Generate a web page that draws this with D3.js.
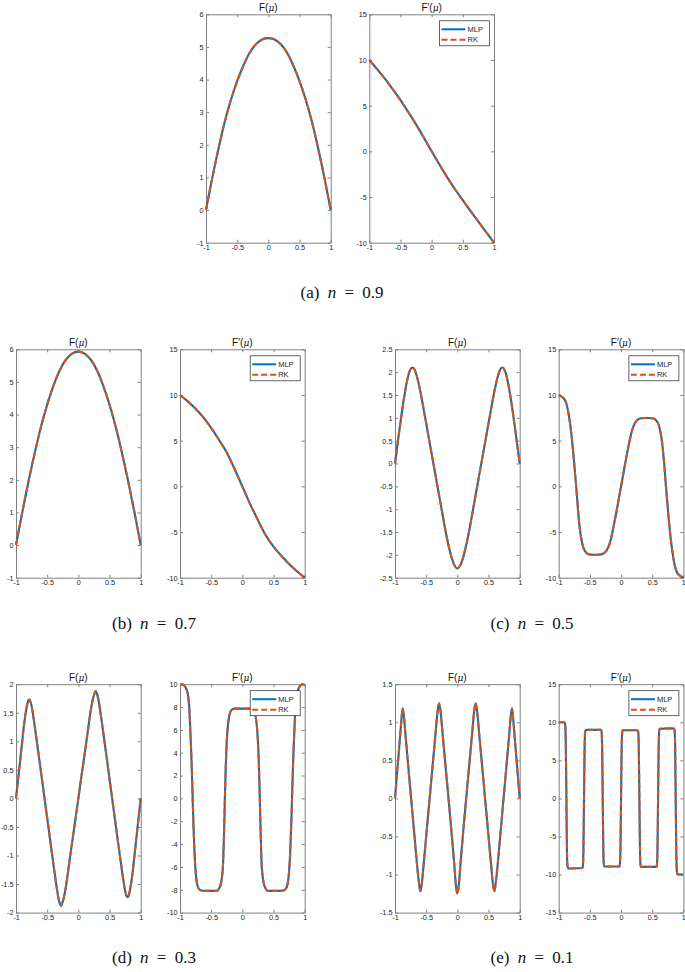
<!DOCTYPE html>
<html>
<head>
<meta charset="utf-8">
<script src="https://cdn.jsdelivr.net/npm/d3@7"></script>
<style>
body { margin: 0; background: #fff; }
text { font-family: "Liberation Sans", Arial, sans-serif; }
.ax path, .ax line { stroke: #808080; stroke-width: 1; }
.ax text { fill: #262626; font-size: 7.3px; }
</style>
</head>
<body>
<div id="chart"></div>
<script>
// ---- data ----
var xTicks = [-1, -0.5, 0, 0.5, 1];

// (a) n = 0.9
var muA = [-1,-0.9,-0.8,-0.7,-0.6,-0.5,-0.4,-0.3,-0.2,-0.1,0,0.1,0.2,0.3,0.4,0.5,0.6,0.7,0.8,0.9,1];
var fA = [0,0.98,1.88,2.7,3.38,3.95,4.43,4.82,5.08,5.23,5.27,5.23,5.08,4.82,4.43,3.95,3.38,2.7,1.88,0.98,0];
var muA2 = [-1,-0.875,-0.75,-0.625,-0.5,-0.375,-0.25,-0.125,0,0.125,0.25,0.375,0.5,0.625,0.75,0.875,1];
var dfA = [10,9.0,7.95,6.8,5.6,4.3,2.95,1.5,0,-1.45,-2.85,-4.15,-5.35,-6.55,-7.7,-8.85,-10];

// (b) n = 0.7
var muB = [-1,-0.9,-0.8,-0.7,-0.6,-0.5,-0.4,-0.3,-0.2,-0.1,0,0.1,0.2,0.3,0.4,0.5,0.6,0.7,0.8,0.9,1];
var fB = [0,1.0,1.95,2.82,3.62,4.3,4.88,5.35,5.68,5.87,5.93,5.87,5.68,5.35,4.88,4.3,3.62,2.82,1.95,1.0,0];
var muB2 = [-1,-0.875,-0.75,-0.625,-0.5,-0.375,-0.25,-0.125,0,0.125,0.25,0.375,0.5,0.625,0.75,0.875,1];
var dfB = [10,9.3,8.5,7.55,6.4,5.1,3.7,1.9,0,-1.95,-3.7,-5.35,-6.6,-7.6,-8.5,-9.3,-10];

// (c) n = 0.5
var muC = [-1,-0.95,-0.9,-0.85,-0.8,-0.76,-0.72,-0.68,-0.64,-0.6,-0.55,-0.5,-0.45,-0.4,-0.35,-0.3,-0.25,-0.2,-0.15,-0.1,-0.05,0,
           0.05,0.1,0.15,0.2,0.25,0.3,0.35,0.4,0.45,0.5,0.55,0.6,0.64,0.68,0.72,0.76,0.8,0.85,0.9,0.95,1];
var fC = [0,0.52,1.02,1.48,1.85,2.04,2.1,2.04,1.86,1.62,1.26,0.88,0.5,0.12,-0.26,-0.64,-1.02,-1.4,-1.74,-2.02,-2.22,-2.3,
          -2.22,-2.02,-1.74,-1.4,-1.02,-0.64,-0.26,0.12,0.5,0.88,1.26,1.62,1.86,2.04,2.1,2.04,1.85,1.48,1.02,0.52,0];
var muC2 = [-1,-0.95,-0.9,-0.86,-0.82,-0.79,-0.765,-0.74,-0.715,-0.69,-0.66,-0.63,-0.6,-0.56,-0.52,-0.45,-0.38,-0.32,-0.28,-0.24,-0.2,-0.16,-0.12,-0.08,-0.04,0,
            0.04,0.08,0.12,0.16,0.2,0.24,0.28,0.32,0.38,0.45,0.52,0.56,0.6,0.63,0.66,0.69,0.715,0.74,0.765,0.79,0.82,0.86,0.9,0.95,1];
var dfC = [10,9.8,9.45,8.6,7.0,5.3,3.6,1.6,-0.4,-2.6,-4.7,-6.0,-6.8,-7.25,-7.42,-7.48,-7.48,-7.45,-7.35,-7.1,-6.6,-5.7,-4.4,-3.0,-1.5,0,
           1.5,3.0,4.4,5.7,6.6,7.1,7.35,7.45,7.48,7.48,7.42,7.25,6.8,6.0,4.7,2.6,0.4,-1.6,-3.6,-5.3,-7.0,-8.6,-9.45,-9.8,-10];

// (d) n = 0.3
var muD = [-1,-0.95,-0.9,-0.87,-0.84,-0.82,-0.8,-0.786,-0.77,-0.75,-0.72,-0.68,-0.6,-0.5,-0.4,-0.35,-0.32,-0.3,-0.278,-0.26,-0.24,-0.2,-0.15,-0.1,-0.05,0,
           0.05,0.1,0.15,0.2,0.24,0.26,0.278,0.3,0.32,0.35,0.4,0.5,0.6,0.68,0.72,0.75,0.77,0.786,0.8,0.82,0.84,0.87,0.9,0.95,1];
var fD = [0,0.5,1.0,1.3,1.53,1.65,1.72,1.73,1.7,1.62,1.42,1.11,0.47,-0.34,-1.15,-1.54,-1.74,-1.83,-1.88,-1.84,-1.77,-1.55,-1.16,-0.77,-0.39,0,
          0.39,0.77,1.16,1.55,1.77,1.84,1.88,1.83,1.74,1.54,1.15,0.34,-0.47,-1.11,-1.42,-1.62,-1.7,-1.73,-1.72,-1.65,-1.53,-1.3,-1.0,-0.5,0];
var muD2 = [-1,-0.95,-0.92,-0.9,-0.867,-0.85,-0.835,-0.815,-0.8,-0.785,-0.765,-0.745,-0.725,-0.7,-0.67,-0.6,-0.45,-0.4,-0.37,-0.345,-0.325,-0.31,-0.295,-0.28,-0.265,-0.25,-0.235,-0.215,-0.19,-0.16,-0.12,0,
            0.12,0.16,0.19,0.215,0.235,0.25,0.265,0.28,0.295,0.31,0.325,0.345,0.37,0.4,0.45,0.6,0.67,0.7,0.725,0.745,0.765,0.785,0.8,0.815,0.835,0.85,0.867,0.9,0.92,0.95,1];
var dfD = [10,9.97,9.8,9.6,8.9,7.8,6.0,3.3,0.6,-2.2,-5.0,-6.7,-7.5,-7.9,-8.05,-8.1,-8.1,-8.08,-7.85,-7.5,-6.8,-5.8,-3.3,0,3.0,5.0,6.2,7.1,7.6,7.8,7.86,7.86,
           7.86,7.8,7.6,7.1,6.2,5.0,3.0,0,-3.3,-5.8,-6.8,-7.5,-7.85,-8.08,-8.1,-8.1,-8.05,-7.9,-7.5,-6.7,-5.0,-2.2,0.6,3.3,6.0,7.8,8.9,9.6,9.8,9.97,10];

// (e) n = 0.1
var muE = [-1,-0.95,-0.92,-0.9,-0.89,-0.877,-0.86,-0.83,-0.8,-0.7,-0.65,-0.62,-0.594,-0.57,-0.54,-0.5,-0.4,-0.35,-0.32,-0.294,-0.27,-0.24,-0.2,-0.1,-0.05,-0.025,0,
           0.025,0.05,0.1,0.2,0.24,0.27,0.294,0.32,0.35,0.4,0.5,0.54,0.57,0.594,0.62,0.65,0.7,0.8,0.83,0.86,0.877,0.89,0.9,0.92,0.95,1];
var fE = [0,0.5,0.8,1.0,1.1,1.18,1.1,0.82,0.54,-0.38,-0.84,-1.08,-1.22,-1.12,-0.86,-0.5,0.4,0.85,1.12,1.25,1.15,0.88,0.52,-0.38,-0.86,-1.13,-1.25,
          -1.13,-0.86,-0.38,0.52,0.88,1.15,1.25,1.12,0.85,0.4,-0.5,-0.86,-1.12,-1.22,-1.08,-0.84,-0.38,0.54,0.82,1.1,1.18,1.1,1.0,0.8,0.5,0];
var muE2 = [-1,-0.92,-0.905,-0.895,-0.887,-0.877,-0.867,-0.86,-0.85,-0.83,-0.62,-0.61,-0.603,-0.594,-0.585,-0.578,-0.57,-0.55,-0.32,-0.31,-0.303,-0.294,-0.285,-0.278,-0.27,-0.25,-0.025,-0.017,-0.009,0,
            0.009,0.017,0.025,0.25,0.27,0.278,0.285,0.294,0.303,0.31,0.32,0.55,0.57,0.578,0.585,0.594,0.603,0.61,0.62,0.83,0.85,0.86,0.867,0.877,0.887,0.895,0.905,0.92,1];
var dfE = [10,10,9.95,9.6,7.5,0.4,-7.2,-8.8,-9.15,-9.2,-9.15,-8.7,-6.5,0,6.3,8.5,8.95,9.0,9.0,8.6,6.4,0,-6.3,-8.5,-8.9,-8.95,-8.95,-8.5,-6.3,0,
           6.3,8.5,8.95,8.95,8.9,8.5,6.3,0,-6.4,-8.6,-9.0,-9.0,-8.95,-8.5,-6.3,0,6.5,8.7,9.15,9.2,9.15,8.8,7.2,-0.4,-7.5,-9.6,-9.95,-10,-10];

// y tick labels
var ticksF_09 = [-1,0,1,2,3,4,5,6];
var ticksF_05 = [-2.5,-2,-1.5,-1,-0.5,0,0.5,1,1.5,2,2.5];
var ticksF_03 = [-2,-1.5,-1,-0.5,0,0.5,1,1.5,2];
var ticksF_01 = [-1.5,-1,-0.5,0,0.5,1,1.5];
var ticksD_std = [-10,-5,0,5,10,15];
var ticksD_03 = [-10,-8,-6,-4,-2,0,2,4,6,8,10];
var ticksD_01 = [-15,-10,-5,0,5,10,15];

var captions = ["(a)", "(b)", "(c)", "(d)", "(e)"];
var nValues = ["0.9", "0.7", "0.5", "0.3", "0.1"];
var seriesNames = ["MLP", "RK"];

// ---- drawing ----
var width = 685, height = 972,
    pw = 124.7, ph = 228.4;

var blue = "#0072BD", orange = "#D95319";

var svg = d3.select("#chart").append("svg")
    .attr("width", width)
    .attr("height", height);

svg.append("rect").attr("width", width).attr("height", height).attr("fill", "#fff");

var fmt = function(d) { return String(d); };

function panel(x0, y0, yDom, yTicks, mu, vals, prime, smooth) {
    var x = d3.scaleLinear().domain([-1, 1]).range([0, pw]);
    var y = d3.scaleLinear().domain(yDom).range([ph, 0]);

    var g = svg.append("g")
        .attr("transform", "translate(" + x0 + "," + y0 + ")");

    g.append("g").attr("class", "ax")
        .attr("transform", "translate(0," + ph + ")")
        .call(d3.axisBottom(x).tickValues(xTicks).tickFormat(fmt)
            .tickSizeInner(-3).tickSizeOuter(0).tickPadding(2.5));
    g.append("g").attr("class", "ax")
        .call(d3.axisTop(x).tickValues(xTicks).tickFormat("")
            .tickSizeInner(-3).tickSizeOuter(0));
    g.append("g").attr("class", "ax")
        .call(d3.axisLeft(y).tickValues(yTicks).tickFormat(fmt)
            .tickSizeInner(-3).tickSizeOuter(0).tickPadding(2.5));
    g.append("g").attr("class", "ax")
        .attr("transform", "translate(" + pw + ",0)")
        .call(d3.axisRight(y).tickValues(yTicks).tickFormat("")
            .tickSizeInner(-3).tickSizeOuter(0));

    var pts = mu.map(function(m, i) { return [m, vals[i]]; });
    var line = d3.line()
        .x(function(d) { return x(d[0]); })
        .y(function(d) { return y(d[1]); })
        .curve(smooth ? d3.curveCatmullRom : d3.curveMonotoneX);

    // MLP (solid) then RK (dashed) on top
    g.append("path").datum(pts)
        .attr("d", line)
        .attr("fill", "none")
        .attr("stroke", blue)
        .attr("stroke-width", 2.1);
    g.append("path").datum(pts)
        .attr("d", line)
        .attr("fill", "none")
        .attr("stroke", orange)
        .attr("stroke-width", 2.1)
        .attr("stroke-dasharray", "6,3");

    // title
    var t = g.append("text")
        .attr("x", pw / 2)
        .attr("y", -3.5)
        .attr("text-anchor", "middle")
        .style("font-size", "10px")
        .attr("fill", "#111");
    t.append("tspan").text(prime ? "F\u2032(" : "F(");
    t.append("tspan").text("\u03bc")
        .style("font-style", "italic")
        .style("font-family", "'DejaVu Serif', serif")
        .style("font-size", "9px");
    t.append("tspan").text(")");

    if (prime) {
        var lw = 50, lh = 25;
        var lg = g.append("g")
            .attr("transform", "translate(" + (pw - 4.5 - lw) + ",6.5)");
        lg.append("rect")
            .attr("width", lw).attr("height", lh)
            .attr("fill", "#fff")
            .attr("stroke", "#262626")
            .attr("stroke-width", 0.7);
        seriesNames.forEach(function(name, i) {
            var ly = 8.5 + i * 10.5;
            lg.append("line")
                .attr("x1", 2).attr("x2", 26)
                .attr("y1", ly).attr("y2", ly)
                .attr("stroke", i === 0 ? blue : orange)
                .attr("stroke-width", 2)
                .attr("stroke-dasharray", i === 0 ? null : "6,3");
            lg.append("text")
                .attr("x", 28).attr("y", ly + 2.7)
                .style("font-size", "7.5px")
                .attr("fill", "#262626")
                .text(name);
        });
    }
}

function caption(cx, by, i) {
    var t = svg.append("text")
        .attr("x", cx)
        .attr("y", by)
        .attr("text-anchor", "middle")
        .style("font-family", "'Liberation Serif', 'DejaVu Serif', serif")
        .style("font-size", "17px")
        .style("word-spacing", "4px")
        .attr("fill", "#111");
    t.append("tspan").text(captions[i] + " ");
    t.append("tspan").text("n").style("font-style", "italic");
    t.append("tspan").text(" = " + nValues[i]);
}

// row (a)
panel(206, 14.3, [-1, 6], ticksF_09, muA, fA, false, true);
panel(369.3, 14.3, [-10, 15], ticksD_std, muA2, dfA, true, true);
caption(342, 297.5, 0);

// row (b), (c)
panel(16, 349.3, [-1, 6], ticksF_09, muB, fB, false, true);
panel(180, 349.3, [-10, 15], ticksD_std, muB2, dfB, true, true);
panel(395, 349.3, [-2.5, 2.5], ticksF_05, muC, fC, false, false);
panel(558.7, 349.3, [-10, 15], ticksD_std, muC2, dfC, true, false);
caption(154, 628.5, 1);
caption(532, 628.5, 2);

// row (d), (e)
panel(16, 684.2, [-2, 2], ticksF_03, muD, fD, false, false);
panel(180, 684.2, [-10, 10], ticksD_03, muD2, dfD, true, false);
panel(395, 684.2, [-1.5, 1.5], ticksF_01, muE, fE, false, false);
panel(558.7, 684.2, [-15, 15], ticksD_01, muE2, dfE, true, false);
caption(154, 962.5, 3);
caption(532, 962.5, 4);
</script>
</body>
</html>
